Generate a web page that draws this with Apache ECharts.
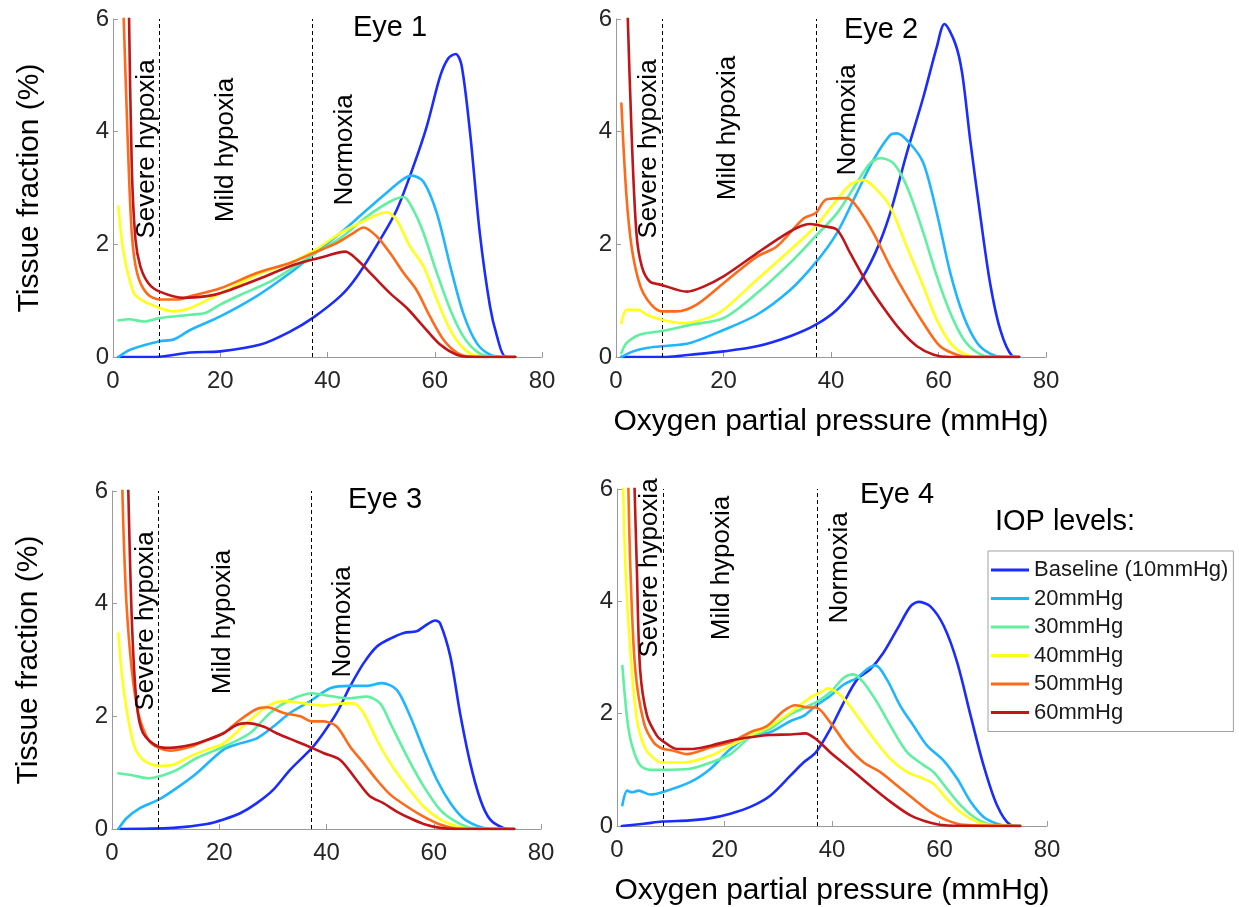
<!DOCTYPE html>
<html>
<head>
<meta charset="utf-8">
<script src="https://cdn.jsdelivr.net/npm/echarts@6/dist/echarts.min.js"></script>
<style>
html,body{margin:0;padding:0;background:#fff;}
#chart{width:1239px;height:907px;}
</style>
</head>
<body>
<div id="chart"></div>
<script>
// ---- Data (x = oxygen partial pressure mmHg, y = tissue fraction %) ----
const seriesNames = ['Baseline (10mmHg)', '20mmHg', '30mmHg', '40mmHg', '50mmHg', '60mmHg'];
const panelTitles = ['Eye 1', 'Eye 2', 'Eye 3', 'Eye 4'];
const xTicks = [0, 20, 40, 60, 80];
const yTicks = [0, 2, 4, 6];
const thresholds = [8.6, 37.2];
const regionLabels = ['Severe hypoxia', 'Mild hypoxia', 'Normoxia'];

// Eye 1
const eye1_base = [[1,0],[8,0],[14.4,0.08],[20,0.1],[27.5,0.22],[33,0.45],[37.2,0.69],[42.4,1.08],[45.5,1.43],[49.8,2.08],[52.9,2.61],[56,3.38],[58.5,4.09],[61,4.98],[62.5,5.3],[63.9,5.38],[65,5.18],[66.6,3.97],[68.4,2.2],[70.3,0.9],[71.6,0.37],[73.1,0.01],[75,0]];
const eye1_20 = [[1,0],[3.2,0.13],[8.7,0.28],[11.3,0.31],[14.4,0.48],[20,0.72],[26.8,1.08],[33,1.49],[37.2,1.81],[42.4,2.2],[47.3,2.61],[51.7,2.97],[54,3.15],[55.7,3.22],[57.9,3.11],[60.4,2.55],[62.9,1.61],[65.3,0.78],[67.8,0.25],[70.3,0.04],[73,0],[75,0]];
const eye1_30 = [[1,0.65],[3,0.67],[5.7,0.63],[8.7,0.69],[14.4,0.75],[17.2,0.78],[20,0.93],[23.7,1.1],[29.9,1.37],[37.2,1.81],[42.4,2.11],[47.3,2.49],[51.7,2.76],[54.2,2.84],[56,2.61],[57.9,2.2],[60.4,1.49],[62.9,0.84],[65.3,0.37],[67.8,0.1],[70.3,0.01],[75,0]];
const eye1_40 = [[1,2.67],[2,1.84],[3.9,1.13],[5.7,0.99],[8.7,0.87],[11.3,0.81],[14.4,0.87],[20,1.13],[26.8,1.46],[33,1.67],[37.2,1.87],[42.4,2.2],[46.7,2.41],[51,2.57],[52.9,2.43],[55.4,1.96],[57.9,1.61],[60.4,1.02],[62.9,0.48],[65.3,0.16],[67.8,0.02],[75,0]];
const eye1_50 = [[1.8,6.6],[2.7,3.97],[3.5,2.2],[4.5,1.49],[6.3,1.13],[8.7,1.02],[11.9,1.02],[14.4,1.08],[20,1.22],[26.8,1.49],[33,1.67],[37.2,1.84],[41.7,2.02],[44.8,2.2],[46.7,2.3],[49.2,2.14],[51.7,1.84],[54.2,1.49],[56.6,1.19],[59.1,0.72],[61.6,0.31],[64.1,0.08],[66.6,0.01],[75,0]];
const eye1_60 = [[2.9,6.6],[3.5,3.38],[4.2,2.08],[5.1,1.61],[6.6,1.31],[8.7,1.16],[13.2,1.05],[17.5,1.08],[20,1.13],[26.8,1.37],[33,1.61],[37.2,1.73],[39.3,1.78],[43.3,1.87],[45.5,1.73],[48.6,1.43],[51.7,1.13],[54.8,0.87],[57.9,0.54],[61,0.22],[64.1,0.04],[67,0],[75,0]];

// Eye 2
const eye2_base = [[1,0],[9.4,0],[13.8,0.04],[20,0.1],[26.2,0.19],[32.4,0.37],[37.1,0.57],[41.1,0.84],[44.8,1.25],[48.2,1.84],[51,2.55],[54.1,3.62],[57.2,4.62],[59.7,5.51],[61.1,5.91],[63.1,5.57],[64.4,5.04],[65.9,3.85],[67.8,2.49],[69.6,1.31],[71.5,0.48],[73.7,0.02],[75,0]];
const eye2_20 = [[1,0],[3.2,0.1],[5.7,0.16],[8.5,0.19],[13.8,0.25],[20,0.48],[26.2,0.75],[32.4,1.19],[37.1,1.67],[41.1,2.2],[44.8,2.91],[47.9,3.5],[51,3.94],[52.3,3.97],[54.7,3.79],[57.2,3.44],[59.7,2.55],[62.2,1.49],[64.7,0.72],[67.2,0.25],[69.6,0.06],[72,0],[75,0]];
const eye2_30 = [[1,0.07],[2,0.25],[4.5,0.4],[8.5,0.46],[13.8,0.57],[20,0.69],[26.2,1.13],[32.4,1.67],[37.1,2.14],[41.1,2.55],[44.8,3.09],[47.3,3.44],[49.2,3.53],[51.6,3.44],[54.1,3.03],[57.2,2.2],[59.7,1.43],[62.2,0.78],[64.7,0.31],[67.2,0.08],[70,0],[75,0]];
const eye2_40 = [[1,0.6],[2,0.84],[4.2,0.84],[5.7,0.75],[8.5,0.66],[12.5,0.6],[16.9,0.69],[20,0.84],[26.2,1.37],[32.4,1.9],[37.1,2.32],[41.1,2.79],[43.6,3.06],[46.1,3.14],[48.5,2.97],[51,2.67],[54.1,1.96],[57.2,1.25],[59.7,0.66],[62.2,0.25],[64.7,0.06],[68,0],[75,0]];
const eye2_50 = [[1,4.5],[2,2.79],[3.2,1.78],[5.1,1.13],[8.5,0.81],[11.3,0.81],[15,0.93],[20,1.31],[26.2,1.78],[29.9,1.96],[34.9,2.46],[37.1,2.55],[39.2,2.8],[43,2.82],[44.8,2.67],[47.9,2.2],[51,1.61],[54.1,1.08],[57.2,0.6],[60.3,0.19],[63.4,0.04],[66,0],[75,0]];
const eye2_60 = [[2,6.6],[2.9,3.97],[3.8,2.2],[4.8,1.61],[6.3,1.34],[8.5,1.28],[13.2,1.16],[16.3,1.25],[20,1.43],[26.2,1.84],[29.9,2.08],[33.6,2.29],[36.1,2.36],[38.6,2.32],[41.1,2.26],[43.6,1.84],[46.7,1.31],[49.8,0.87],[52.9,0.48],[56,0.19],[59.1,0.04],[62,0],[75,0]];

// Eye 3
const eye3_base = [[1.2,0],[11.4,0.02],[17.7,0.09],[20.8,0.17],[23.9,0.28],[27,0.46],[30.1,0.7],[33.2,1.05],[37.3,1.44],[39.4,1.7],[41.9,2.06],[44.4,2.53],[46.9,2.94],[49.4,3.24],[51.9,3.38],[54.4,3.48],[56.8,3.51],[58.1,3.59],[60.3,3.7],[61.2,3.65],[63.1,3.06],[64.9,2.06],[66.8,1.17],[68.7,0.52],[70.5,0.17],[73,0.02],[75,0]];
const eye3_20 = [[1.2,0],[2.7,0.19],[5.2,0.37],[8.7,0.52],[12.1,0.73],[15.8,0.99],[20.8,1.41],[23.9,1.52],[27,1.61],[30.1,1.82],[33.2,2.06],[37.3,2.29],[40.7,2.5],[44.4,2.54],[47.5,2.54],[50.3,2.59],[53.1,2.47],[55.6,2.0],[58.1,1.41],[60.6,0.87],[63.1,0.46],[65.5,0.19],[68,0.06],[71,0],[75,0]];
const eye3_30 = [[1.2,0.99],[4,0.95],[6.8,0.9],[8.7,0.93],[12.1,1.05],[15.8,1.26],[20.8,1.46],[25.7,1.7],[29.5,2.06],[33.2,2.29],[37.3,2.41],[40.7,2.36],[43.8,2.32],[47.5,2.35],[50,2.23],[51.9,1.88],[55,1.29],[58.1,0.76],[61.2,0.34],[64.3,0.12],[67,0.02],[75,0]];
const eye3_40 = [[1.2,3.47],[2.1,2.53],[4,1.52],[5.8,1.23],[8.7,1.12],[11.4,1.14],[14.6,1.29],[17.7,1.41],[20.8,1.52],[25.1,1.88],[28.9,2.17],[32,2.27],[35.7,2.23],[39.4,2.19],[43.2,2.23],[45,2.23],[46.9,2.06],[49.4,1.58],[51.9,1.17],[55,0.76],[58.1,0.4],[61.2,0.17],[64.3,0.05],[67,0],[75,0]];
const eye3_50 = [[1.8,6.6],[2.1,5.42],[2.7,4.0],[3.7,2.82],[4.9,2.06],[6.8,1.58],[8.7,1.44],[10.8,1.39],[14.6,1.46],[17.7,1.58],[20.8,1.7],[23.9,1.94],[27,2.13],[28.9,2.16],[32,2.06],[35.1,2.0],[37.3,1.91],[39.4,1.91],[41.9,1.82],[44.4,1.46],[46.9,1.17],[49.4,0.87],[51.9,0.61],[55,0.4],[58.1,0.22],[61.2,0.08],[64.3,0.01],[75,0]];
const eye3_60 = [[2.9,6.6],[3.7,3.71],[4.6,2.23],[5.8,1.7],[8.7,1.46],[10.8,1.44],[14.6,1.49],[17.7,1.58],[20.8,1.7],[23.3,1.85],[25.1,1.88],[28.2,1.82],[30.7,1.7],[34.5,1.55],[37.3,1.44],[39.4,1.35],[42.5,1.23],[45.6,0.87],[48.1,0.58],[50.6,0.46],[53.1,0.31],[55.6,0.19],[58.1,0.09],[61.2,0.02],[64,0],[75,0]];

// Eye 4
const eye4_base = [[0.9,0],[5,0.04],[8.4,0.08],[13.6,0.1],[17.4,0.14],[21.1,0.22],[24.8,0.34],[28.5,0.54],[32.3,0.9],[34.7,1.13],[37,1.31],[39.7,1.73],[42.2,2.2],[44.7,2.61],[47.1,2.79],[49.6,3.09],[52.1,3.5],[54.6,3.91],[56.1,3.99],[58.3,3.91],[60.8,3.56],[63.3,2.91],[65.8,1.96],[68.2,1.08],[70.7,0.37],[73.2,0.02],[75,0]];
const eye4_20 = [[1,0.37],[1.9,0.63],[2.8,0.6],[4,0.63],[6.2,0.56],[8.4,0.6],[13.6,0.78],[17.4,1.02],[21.1,1.37],[24.8,1.61],[28.5,1.67],[32.3,1.87],[34.7,1.96],[37,2.14],[39.7,2.32],[42.2,2.52],[44.7,2.64],[46.5,2.79],[48.1,2.86],[50.2,2.61],[52.7,2.14],[55.2,1.78],[57.7,1.43],[60.8,1.16],[63.3,0.84],[65.8,0.43],[68.2,0.16],[70.7,0.04],[73,0],[75,0]];
const eye4_30 = [[1,2.85],[1.9,1.9],[2.8,1.43],[4.3,1.08],[6.2,1.0],[8.4,1.0],[13.6,1.02],[17.4,1.13],[21.1,1.28],[24.8,1.58],[28.5,1.73],[32.3,1.99],[37,2.2],[39.7,2.38],[42.2,2.64],[44,2.7],[45.9,2.55],[48.4,2.2],[50.9,1.78],[54,1.31],[57.1,1.08],[58.9,0.96],[61.4,0.66],[63.9,0.37],[66.4,0.16],[68.9,0.04],[72,0],[75,0]];
const eye4_40 = [[1,6.6],[1.6,4.56],[2.5,3.09],[3.7,1.9],[5.3,1.37],[7.4,1.16],[8.4,1.13],[12.4,1.13],[17.4,1.25],[21.1,1.43],[24.8,1.61],[28.5,1.78],[32.3,2.02],[36,2.29],[38.5,2.41],[39.1,2.45],[41.7,2.32],[44.7,1.96],[47.8,1.55],[50.9,1.19],[54,0.96],[57.1,0.84],[58.9,0.75],[61.4,0.48],[63.9,0.25],[66.4,0.1],[69,0.02],[75,0]];
const eye4_50 = [[2,6.6],[2.5,4.56],[3.4,2.79],[5,1.84],[6.8,1.49],[8.4,1.38],[10.5,1.34],[13,1.28],[17.4,1.4],[21.1,1.49],[24.8,1.67],[27.9,1.78],[31,2.05],[33.2,2.15],[35.4,2.11],[37,2.11],[39.7,1.84],[42.8,1.43],[45.9,1.13],[49,0.96],[52.1,0.72],[55.2,0.48],[58.3,0.25],[61.4,0.1],[64.5,0.02],[75,0]];
const eye4_60 = [[3.1,6.6],[3.7,4.56],[4.3,2.79],[5.6,1.96],[7.4,1.61],[8.4,1.52],[11.2,1.37],[13.6,1.37],[17.4,1.43],[21.1,1.52],[24.8,1.58],[28.5,1.62],[32.3,1.63],[35,1.65],[37,1.55],[39.7,1.31],[43.4,1.02],[47.1,0.72],[50.9,0.43],[54.6,0.19],[58.3,0.06],[61.5,0.01],[75,0]];

const panels = [
  [eye1_base, eye1_20, eye1_30, eye1_40, eye1_50, eye1_60],
  [eye2_base, eye2_20, eye2_30, eye2_40, eye2_50, eye2_60],
  [eye3_base, eye3_20, eye3_30, eye3_40, eye3_50, eye3_60],
  [eye4_base, eye4_20, eye4_30, eye4_40, eye4_50, eye4_60]
];

// ---- Styling / layout ----
const colors = ['#1a2cff', '#1fb6ff', '#5ff0a0', '#ffff1a', '#ff6a1a', '#c0161a'];
const FONT = '"Liberation Sans", Arial, sans-serif';
const grids = [
  {left: 113, top: 19, width: 429, height: 338},
  {left: 616, top: 19, width: 430, height: 338},
  {left: 112, top: 491, width: 429, height: 338},
  {left: 617, top: 489, width: 430, height: 338}
];
const axisGray = '#9a9a9a';

const xAxes = grids.map((g, i) => ({
  gridIndex: i, type: 'value', min: xTicks[0], max: xTicks[xTicks.length - 1], interval: 20,
  axisLine: {show: true, onZero: false, lineStyle: {color: axisGray, width: 1}},
  axisTick: {show: true, inside: true, length: 5, lineStyle: {color: axisGray}},
  axisLabel: {color: '#262626', fontSize: 24, fontFamily: FONT, margin: 12},
  splitLine: {show: false},
  name: (i === 1 || i === 3) ? 'Oxygen partial pressure (mmHg)' : '',
  nameLocation: 'middle', nameGap: 50,
  nameTextStyle: {color: '#000', fontSize: 30, fontFamily: FONT}
}));
const yAxes = grids.map((g, i) => ({
  gridIndex: i, type: 'value', min: yTicks[0], max: yTicks[yTicks.length - 1], interval: 2,
  axisLine: {show: true, onZero: false, lineStyle: {color: axisGray, width: 1}},
  axisTick: {show: true, inside: true, length: 5, lineStyle: {color: axisGray}},
  axisLabel: {color: '#262626', fontSize: 24, fontFamily: FONT, margin: 4},
  splitLine: {show: false},
  name: (i === 0 || i === 2) ? 'Tissue fraction (%)' : '',
  nameLocation: 'middle', nameGap: 68, nameRotate: 90,
  nameTextStyle: {color: '#000', fontSize: 30, fontFamily: FONT}
}));

const series = [];
panels.forEach((curves, p) => {
  curves.forEach((data, k) => {
    const s = {
      name: seriesNames[k], type: 'line', xAxisIndex: p, yAxisIndex: p,
      data: data, showSymbol: false, symbol: 'none', smooth: 0.3,
      clip: true, lineStyle: {color: colors[k], width: 2.6, join: 'round', cap: 'round'}, itemStyle: {color: colors[k]},
      z: 3 + k, animation: false
    };
    if (k === 0) {
      s.markLine = {
        silent: true, symbol: 'none', label: {show: false}, animation: false,
        lineStyle: {color: '#000', type: [4, 3], width: 1},
        data: thresholds.map(v => ({xAxis: v}))
      };
    }
    series.push(s);
  });
});

// text annotations (positions in px)
const labelPos = [
  {title: [390, 28], reg: [[147, 149], [226, 150], [345, 150]]},
  {title: [881, 30], reg: [[649, 149], [728, 128], [848, 120]]},
  {title: [385, 500], reg: [[146, 621], [223, 622], [343, 622]]},
  {title: [897, 495], reg: [[650, 568], [722, 568], [840, 568]]}
];
const graphics = [];
labelPos.forEach((lp, p) => {
  graphics.push({type: 'text', x: lp.title[0], y: lp.title[1], z: 50,
    style: {text: panelTitles[p], x: 0, y: 0, align: 'center', verticalAlign: 'middle',
      fontSize: 29, fontFamily: FONT, fill: '#000'}});
  lp.reg.forEach((pos, r) => {
    graphics.push({type: 'text', x: pos[0], y: pos[1], rotation: Math.PI / 2, z: 50,
      style: {text: regionLabels[r], x: 0, y: 0, align: 'center', verticalAlign: 'middle',
        fontSize: 26, fontFamily: FONT, fill: '#000'}});
  });
});
graphics.push({type: 'text', x: 1065, y: 522, z: 50,
  style: {text: 'IOP levels:', x: 0, y: 0, align: 'center', verticalAlign: 'middle',
    fontSize: 29, fontFamily: FONT, fill: '#000'}});

const chart = echarts.init(document.getElementById('chart'), null, {renderer: 'canvas'});
chart.setOption({
  backgroundColor: '#fff',
  animation: false,
  grid: grids,
  xAxis: xAxes,
  yAxis: yAxes,
  legend: {
    data: seriesNames, orient: 'vertical', left: 988, top: 551,
    icon: 'rect', itemWidth: 38, itemHeight: 3, itemGap: 6.5,
    padding: [8, 5, 8, 3], borderColor: '#a0a0a0', borderWidth: 1, backgroundColor: '#fff',
    textStyle: {fontSize: 22, fontFamily: FONT, color: '#1a1a1a', padding: [0, 0, 0, 0]},
    selectedMode: false, z: 60
  },
  series: series,
  graphic: graphics
});
</script>
</body>
</html>
